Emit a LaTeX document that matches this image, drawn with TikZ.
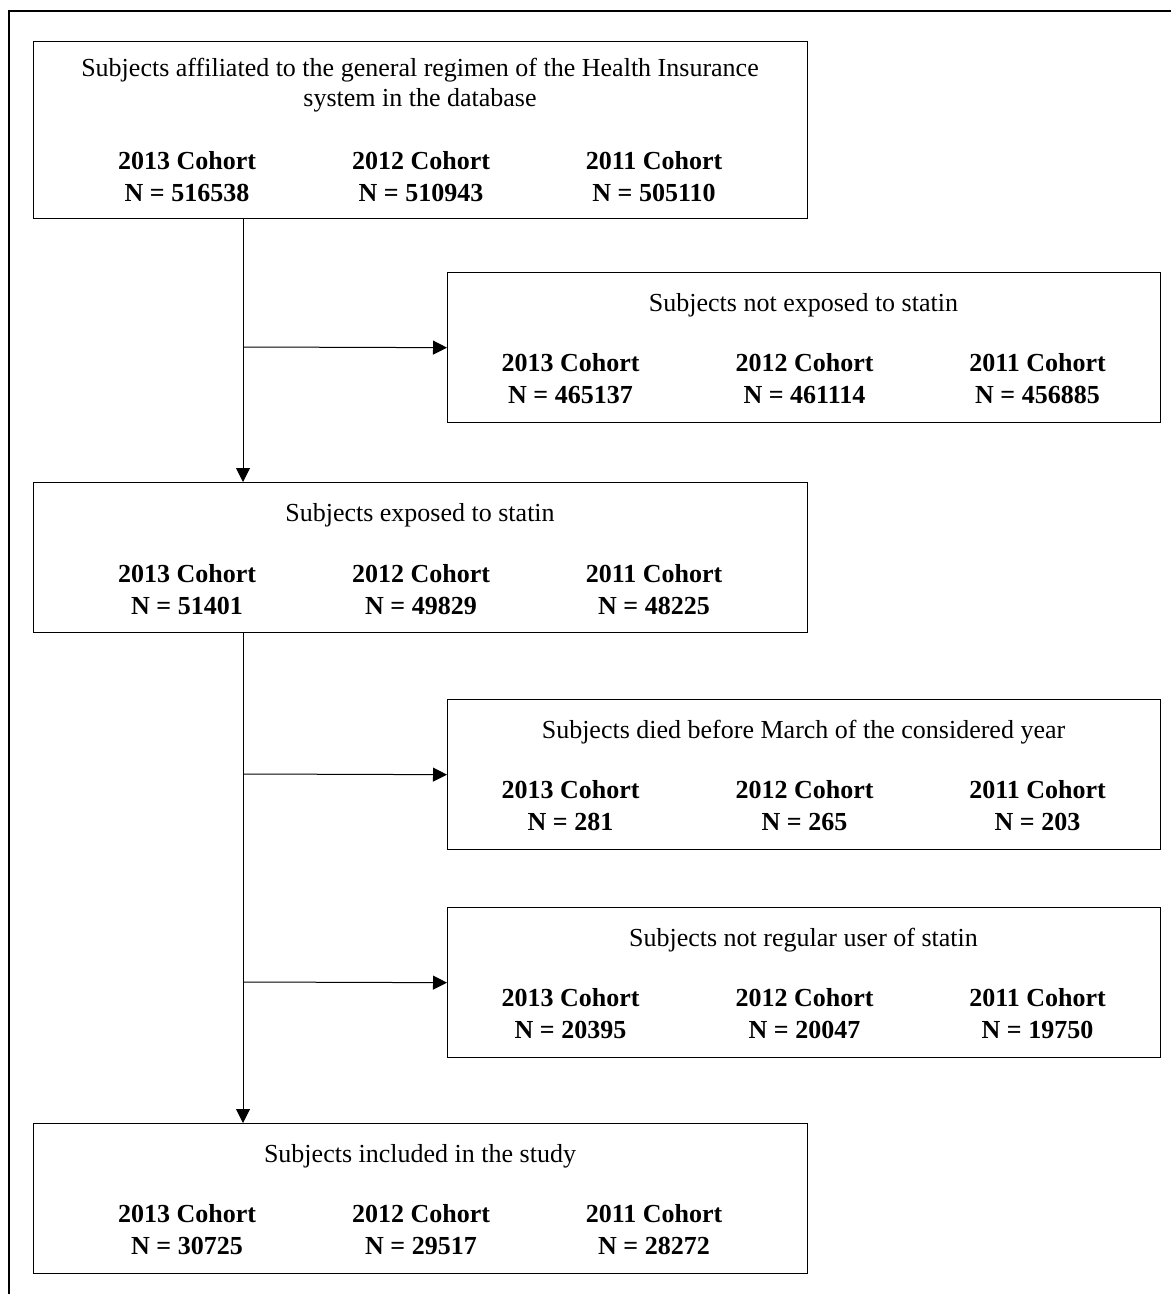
\documentclass[tikz,border=0pt]{standalone}
\usepackage{fontspec}
\setmainfont{Liberation Serif}
\usepackage{tikz}
\usetikzlibrary{shapes,arrows.meta,positioning}

% three cohort columns under a box title
\newcommand{\cohorts}[6]{%
    \node [cohort] (#1-13) at (#2-233,#3) {2013 Cohort};
    \node [cohort] (#1-13n) at (#2-233,#3+32) {N = #4};
    \node [cohort] (#1-12) at (#2+1,#3) {2012 Cohort};
    \node [cohort] (#1-12n) at (#2+1,#3+32) {N = #5};
    \node [cohort] (#1-11) at (#2+234,#3) {2011 Cohort};
    \node [cohort] (#1-11n) at (#2+234,#3+32) {N = #6};
}

\begin{document}
\begin{tikzpicture}[x=0.75pt, y=-0.75pt]
    % Define styles
    \tikzstyle{box} = [rectangle, draw, line width=1pt, inner sep=0pt, anchor=north west, minimum height=112.5pt]
    \tikzstyle{wide} = [minimum width=580.5pt]
    \tikzstyle{narrow} = [minimum width=534.75pt]
    \tikzstyle{title} = [anchor=base, inner sep=0pt, font=\fontsize{19.5}{22}\selectfont]
    \tikzstyle{cohort} = [anchor=base, inner sep=0pt, font=\fontsize{19.5}{22}\selectfont\bfseries]
    \tikzstyle{arrow} = [line width=0.75pt, -{Triangle[length=10.5pt, width=10.5pt]}]
    \tikzstyle{frame} = [line width=1.5pt]

    \useasboundingbox (0,0) rectangle (1171,1294);

    % Outer frame
    \draw [frame] (9,1294) -- (9,10.7) -- (1171,10.7);

    % Database
    \node [box, wide, minimum height=132.75pt] (subjects) at (33,41) {};
    \node [title] (subjects-t1) at (420,77) {Subjects affiliated to the general regimen of the Health Insurance};
    \node [title] (subjects-t2) at (420,107) {system in the database};
    \cohorts{subjects}{420}{170}{516538}{510943}{505110}

    % Not exposed
    \node [box, narrow] (notexposed) at (447,272) {};
    \node [title] (notexposed-t) at (803.5,311) {Subjects not exposed to statin};
    \cohorts{notexposed}{803.5}{371}{465137}{461114}{456885}

    % Exposed
    \node [box, wide] (exposed) at (33,482) {};
    \node [title] (exposed-t) at (420,521) {Subjects exposed to statin};
    \cohorts{exposed}{420}{582}{51401}{49829}{48225}

    % Died
    \node [box, narrow] (died) at (447,699) {};
    \node [title] (died-t) at (803.5,738) {Subjects died before March of the considered year};
    \cohorts{died}{803.5}{798}{281}{265}{203}

    % Not regular
    \node [box, narrow] (notregular) at (447,907) {};
    \node [title] (notregular-t) at (803.5,946) {Subjects not regular user of statin};
    \cohorts{notregular}{803.5}{1006}{20395}{20047}{19750}

    % Included
    \node [box, wide] (included) at (33,1123) {};
    \node [title] (included-t) at (420,1162) {Subjects included in the study};
    \cohorts{included}{420}{1222}{30725}{29517}{28272}

    % Branch points
    \coordinate (b1) at (243,347);
    \coordinate (b2) at (243,774);
    \coordinate (b3) at (243,982);

    % Arrows
    \draw [arrow] (subjects.south -| b1) -- (exposed.north -| b1);
    \draw [arrow] (b1) -- (notexposed.west);
    \draw [arrow] (exposed.south -| b2) -- (included.north -| b2);
    \draw [arrow] (b2) -- (died.west);
    \draw [arrow] (b3) -- (notregular.west);
\end{tikzpicture}
\end{document}
